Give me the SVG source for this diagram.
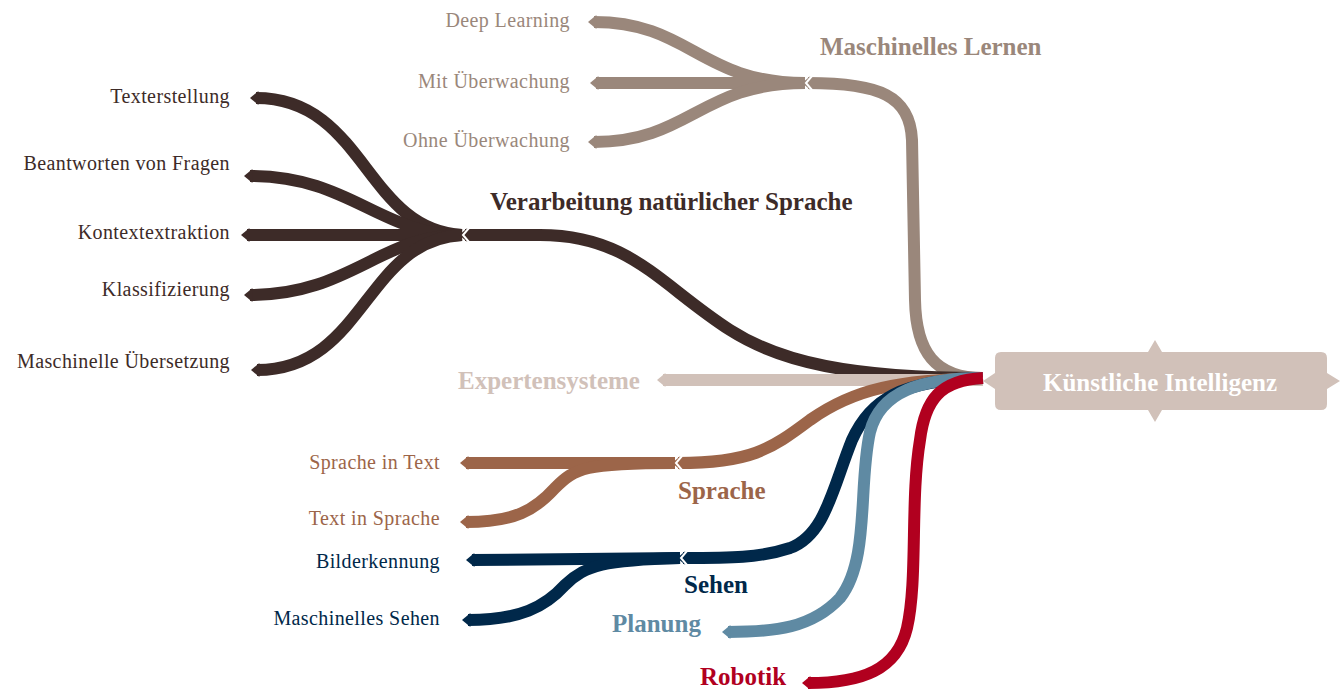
<svg xmlns="http://www.w3.org/2000/svg" width="1340" height="689" viewBox="0 0 1340 689">
<style>
.c{fill:none;stroke-width:12;stroke-linecap:butt}
.t{font-family:"Liberation Serif","DejaVu Serif",serif;font-size:20px;letter-spacing:0.4px;text-anchor:end;dominant-baseline:central}
.b{font-family:"Liberation Serif","DejaVu Serif",serif;font-size:25px;font-weight:bold;dominant-baseline:central}
.n{fill:none;stroke:#fff;stroke-width:2}
</style>
<defs>
<marker id="m1" markerUnits="strokeWidth" markerWidth="2" markerHeight="2" viewBox="-1 -1 2 2" refX="0" refY="0" orient="auto"><path d="M-0.2,-0.58 L0.5,0 L-0.2,0.58 Z" fill="#9a877b"/></marker>
<marker id="m2" markerUnits="strokeWidth" markerWidth="2" markerHeight="2" viewBox="-1 -1 2 2" refX="0" refY="0" orient="auto"><path d="M-0.2,-0.58 L0.5,0 L-0.2,0.58 Z" fill="#3d2b28"/></marker>
<marker id="m3" markerUnits="strokeWidth" markerWidth="2" markerHeight="2" viewBox="-1 -1 2 2" refX="0" refY="0" orient="auto"><path d="M-0.2,-0.58 L0.5,0 L-0.2,0.58 Z" fill="#d1c1b9"/></marker>
<marker id="m4" markerUnits="strokeWidth" markerWidth="2" markerHeight="2" viewBox="-1 -1 2 2" refX="0" refY="0" orient="auto"><path d="M-0.2,-0.58 L0.5,0 L-0.2,0.58 Z" fill="#9c6549"/></marker>
<marker id="m5" markerUnits="strokeWidth" markerWidth="2" markerHeight="2" viewBox="-1 -1 2 2" refX="0" refY="0" orient="auto"><path d="M-0.2,-0.58 L0.5,0 L-0.2,0.58 Z" fill="#00284a"/></marker>
<marker id="m6" markerUnits="strokeWidth" markerWidth="2" markerHeight="2" viewBox="-1 -1 2 2" refX="0" refY="0" orient="auto"><path d="M-0.2,-0.58 L0.5,0 L-0.2,0.58 Z" fill="#5f8aa3"/></marker>
<marker id="m7" markerUnits="strokeWidth" markerWidth="2" markerHeight="2" viewBox="-1 -1 2 2" refX="0" refY="0" orient="auto"><path d="M-0.2,-0.58 L0.5,0 L-0.2,0.58 Z" fill="#b1001f"/></marker>
</defs>
<g id="connectors">
<g marker-end="url(#m1)">
<path class="c" stroke="#9a877b" d="M983,378 C935,378 916,352 915,300 L912,140 C910,96 880,83 808,83"/>
<path class="c" stroke="#9a877b" d="M805,83 C700,83 690,22 594,22"/>
<path class="c" stroke="#9a877b" d="M805,83 L596,83"/>
<path class="c" stroke="#9a877b" d="M805,83 C700,83 690,142 594,142"/>
</g>
<g marker-end="url(#m2)">
<path class="c" stroke="#3d2b28" d="M983,378 C850,378 780,362 730,330 C660,285 630,235 540,235 L465,235"/>
<path class="c" stroke="#3d2b28" d="M462,235 C365,230 365,98 256,98"/>
<path class="c" stroke="#3d2b28" d="M462,235 C380,235 350,176 250,176"/>
<path class="c" stroke="#3d2b28" d="M462,235 L247,235"/>
<path class="c" stroke="#3d2b28" d="M462,235 C380,235 350,295 250,295"/>
<path class="c" stroke="#3d2b28" d="M462,235 C365,240 365,370 257,370"/>
</g>
<path class="c" stroke="#d1c1b9" marker-end="url(#m3)" d="M983,380 L663,380"/>
<g marker-end="url(#m4)">
<path class="c" stroke="#9c6549" d="M983,378 C900,380 855,388 810,420 C770,450 750,463 678,463"/>
<path class="c" stroke="#9c6549" d="M675,463 L466,463"/>
<path class="c" stroke="#9c6549" d="M675,463 C585,463 575,468 555,488 C535,510 515,522 466,522"/>
</g>
<g marker-end="url(#m5)">
<path class="c" stroke="#00284a" d="M983,378 C900,380 870,400 852,440 C832,490 825,535 790,548 C760,558 730,558 683,558"/>
<path class="c" stroke="#00284a" d="M680,558 L472,560"/>
<path class="c" stroke="#00284a" d="M680,558 C605,560 585,565 565,585 C545,607 520,620 468,620"/>
</g>
<path class="c" stroke="#5f8aa3" marker-end="url(#m6)" d="M983,378 C920,378 880,392 870,432 C858,485 870,560 840,598 C812,628 775,632 728,632"/>
<path class="c" stroke="#b1001f" marker-end="url(#m7)" d="M983,378 C940,380 925,400 920,440 C910,500 918,580 907,628 C897,670 862,683 808,683"/>
<polyline class="n" points="812,76 806,83 812,90"/>
<polyline class="n" points="469,228 463,235 469,242"/>
<polyline class="n" points="682,456 676,463 682,470"/>
<polyline class="n" points="687,551 681,558 687,565"/>
<polyline class="n" points="990,371 984,378 990,385"/>
</g>
<g id="root">
<path d="M1001,352 L1148,352 L1155,340 L1162,352 L1321,352 Q1327,352 1327,358 L1327,373 L1340,381 L1327,389 L1327,404 Q1327,410 1321,410 L1162,410 L1155,422 L1148,410 L1001,410 Q995,410 995,404 L995,389 L983,381 L995,373 L995,358 Q995,352 1001,352 Z" fill="#d1c1b9"/>
<text class="b" x="1160" y="382" fill="#fff" text-anchor="middle">Künstliche Intelligenz</text>
</g>
<g id="ml"><text class="b" x="820" y="46" fill="#9a877b">Maschinelles Lernen</text></g>
<g id="ml-deep"><text class="t" x="570" y="20" fill="#9a877b">Deep Learning</text></g>
<g id="ml-mit"><text class="t" x="570" y="81" fill="#9a877b">Mit Überwachung</text></g>
<g id="ml-ohne"><text class="t" x="570" y="140" fill="#9a877b">Ohne Überwachung</text></g>
<g id="nlp"><text class="b" x="490" y="201" fill="#3d2b28">Verarbeitung natürlicher Sprache</text></g>
<g id="nlp-1"><text class="t" x="230" y="96" fill="#3d2b28">Texterstellung</text></g>
<g id="nlp-2"><text class="t" x="230" y="163" fill="#3d2b28">Beantworten von Fragen</text></g>
<g id="nlp-3"><text class="t" x="230" y="232" fill="#3d2b28">Kontextextraktion</text></g>
<g id="nlp-4"><text class="t" x="230" y="289" fill="#3d2b28">Klassifizierung</text></g>
<g id="nlp-5"><text class="t" x="230" y="361" fill="#3d2b28">Maschinelle Übersetzung</text></g>
<g id="expert"><text class="b" x="458" y="380" fill="#d1c1b9">Expertensysteme</text></g>
<g id="sprache"><text class="b" x="678" y="490" fill="#9c6549">Sprache</text></g>
<g id="sprache-1"><text class="t" x="440" y="462" fill="#9c6549">Sprache in Text</text></g>
<g id="sprache-2"><text class="t" x="440" y="518" fill="#9c6549">Text in Sprache</text></g>
<g id="sehen"><text class="b" x="684" y="584" fill="#00284a">Sehen</text></g>
<g id="sehen-1"><text class="t" x="440" y="561" fill="#00284a">Bilderkennung</text></g>
<g id="sehen-2"><text class="t" x="440" y="618" fill="#00284a">Maschinelles Sehen</text></g>
<g id="planung"><text class="b" x="612" y="623" fill="#5f8aa3">Planung</text></g>
<g id="robotik"><text class="b" x="700" y="676" fill="#b1001f">Robotik</text></g>
</svg>
